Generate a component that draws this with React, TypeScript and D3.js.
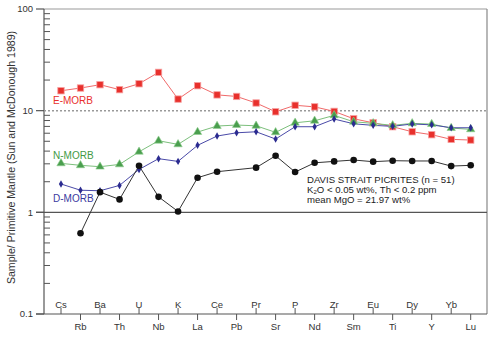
import React from "react";
import * as d3 from "d3";

const elements = ["Cs","Rb","Ba","Th","U","Nb","K","La","Ce","Pb","Pr","Sr","P","Nd","Zr","Sm","Eu","Ti","Dy","Y","Yb","Lu"];
const eMorb = [15.7,16.7,18.0,16.1,18.4,23.8,13.0,17.6,14.3,13.8,11.9,9.75,11.3,10.9,9.84,8.32,7.6,6.95,6.2,5.8,5.22,5.14];
const nMorb = [3.03,2.9,2.81,2.96,3.94,5.06,4.66,6.16,7.06,7.22,7.1,6.12,7.6,7.95,8.99,7.78,7.5,7.17,7.5,7.38,6.74,6.55];
const dMorb = [1.9,1.65,1.63,1.84,2.64,3.37,3.17,4.56,5.63,6.06,6.2,5.26,6.95,6.95,8.27,7.43,7.17,7.01,7.4,7.25,6.79,6.79];
const davis: (number | null)[] = [null,0.622,1.58,1.34,2.87,1.42,1.02,2.19,2.51,null,2.75,3.6,2.49,3.07,3.17,3.27,3.15,3.22,3.2,3.2,2.85,2.9];
const yTicks = [0.1, 1, 10, 100];
const annotation = ["DAVIS STRAIT PICRITES (n = 51)", "mean MgO = 21.97 wt%"];

const X0 = 44, X1 = 487, Y0 = 9, Y1 = 314;
const FONT = "'Liberation Sans', Arial, sans-serif";

export default function App() {
  const x = d3.scalePoint<string>().domain(elements).range([61, 470.7]);
  const y = d3.scaleLog().domain([0.1, 100]).range([Y1, Y0]);
  const line = d3.line<[string, number | null]>()
    .defined(d => d[1] != null)
    .x(d => x(d[0])!)
    .y(d => y(d[1] as number));
  const pairs = (arr: (number | null)[]) => elements.map((e, i) => [e, arr[i]] as [string, number | null]);

  const minor: number[] = [];
  [0.1, 1, 10].forEach(b => { for (let k = 2; k <= 9; k++) minor.push(b * k); });

  const davisPts = pairs(davis).filter(d => d[1] != null);
  const davisLine = d3.line<[string, number | null]>().x(d => x(d[0])!).y(d => y(d[1] as number));

  const tri = d3.symbol().type(d3.symbolTriangle).size(30)()!;
  const dia = d3.symbol().type(d3.symbolDiamond).size(16)()!;

  return (
    <svg width={500} height={339} style={{ position: "absolute", left: 0, top: 0, background: "#fff" }} fontFamily={FONT}>
      <line x1={X0} x2={X1} y1={Y0} y2={Y0} stroke="#999" strokeWidth={1} />
      <line x1={X1} x2={X1} y1={Y0} y2={Y1} stroke="#888" strokeWidth={1.2} />
      <line x1={X0} x2={X0} y1={Y0} y2={Y1} stroke="#555" strokeWidth={1.2} />
      <line x1={36} x2={X1} y1={Y1} y2={Y1} stroke="#555" strokeWidth={1.2} />
      <line x1={X0} x2={X1} y1={y(10)} y2={y(10)} stroke="#999" strokeWidth={1.5} strokeDasharray="2,2" />
      <line x1={36} x2={X1} y1={y(1)} y2={y(1)} stroke="#555" strokeWidth={1.2} />
      {yTicks.map(t => (
        <g key={t}>
          <line x1={36} x2={X0} y1={y(t)} y2={y(t)} stroke="#555" strokeWidth={1.2} />
          <text x={33} y={y(t) + 3.3} textAnchor="end" fontSize={9.5} fill="#333">{t}</text>
        </g>
      ))}
      {minor.map(t => (
        <line key={t} x1={X0} x2={X0 + 6} y1={y(t)} y2={y(t)} stroke="#555" strokeWidth={1} />
      ))}
      {elements.map((e, i) => {
        const xi = x(e)!;
        const up = i % 2 === 0;
        return (
          <g key={e}>
            <line x1={xi} x2={xi} y1={up ? Y1 - 6 : Y1} y2={up ? Y1 : Y1 + 6} stroke="#555" strokeWidth={1} />
            <text x={xi} y={up ? 307.5 : 329.5} textAnchor="middle" fontSize={9.5} fill="#333">{e}</text>
          </g>
        );
      })}
      <text transform="translate(14.5,157.5) rotate(-90)" textAnchor="middle" fontSize={10.6} fill="#333">
        Sample/ Primitive Mantle (Sun and McDonough 1989)
      </text>

      <path d={line(pairs(eMorb))!} fill="none" stroke="#f06a6a" strokeWidth={1} />
      <path d={line(pairs(nMorb))!} fill="none" stroke="#7cbf7c" strokeWidth={1} />
      <path d={line(pairs(dMorb))!} fill="none" stroke="#4a4aa8" strokeWidth={1} />
      <path d={davisLine(davisPts)!} fill="none" stroke="#333" strokeWidth={1} />

      {pairs(eMorb).map(d => (
        <rect key={"e" + d[0]} x={x(d[0])! - 3.2} y={y(d[1] as number) - 3.2} width={6.4} height={6.4} fill="#e8302c" stroke="#f7a0a0" strokeWidth={0.8} />
      ))}
      {pairs(nMorb).map(d => (
        <path key={"n" + d[0]} d={tri} transform={`translate(${x(d[0])},${y(d[1] as number)})`} fill="#4a9e4e" stroke="#8fcf8f" strokeWidth={0.6} />
      ))}
      {pairs(dMorb).map(d => (
        <path key={"d" + d[0]} d={dia} transform={`translate(${x(d[0])},${y(d[1] as number)})`} fill="#2b2b90" />
      ))}
      {davisPts.map(d => (
        <circle key={"v" + d[0]} cx={x(d[0])} cy={y(d[1] as number)} r={3.3} fill="#111" />
      ))}

      <text x={53} y={103.5} fontSize={10} fill="#e8302c">E-MORB</text>
      <text x={53} y={158.5} fontSize={10} fill="#3f9a45">N-MORB</text>
      <text x={53} y={201.8} fontSize={10} fill="#3a3aa0">D-MORB</text>

      <text x={307} y={182.5} fontSize={9.6} fill="#222">{annotation[0]}</text>
      <text x={307} y={192.5} fontSize={9.6} fill="#222">
        K<tspan fontSize={6} dy={1.5}>2</tspan><tspan dy={-1.5}>O &lt; 0.05 wt%, Th &lt; 0.2 ppm</tspan>
      </text>
      <text x={307} y={202.5} fontSize={9.6} fill="#222">{annotation[1]}</text>
    </svg>
  );
}
